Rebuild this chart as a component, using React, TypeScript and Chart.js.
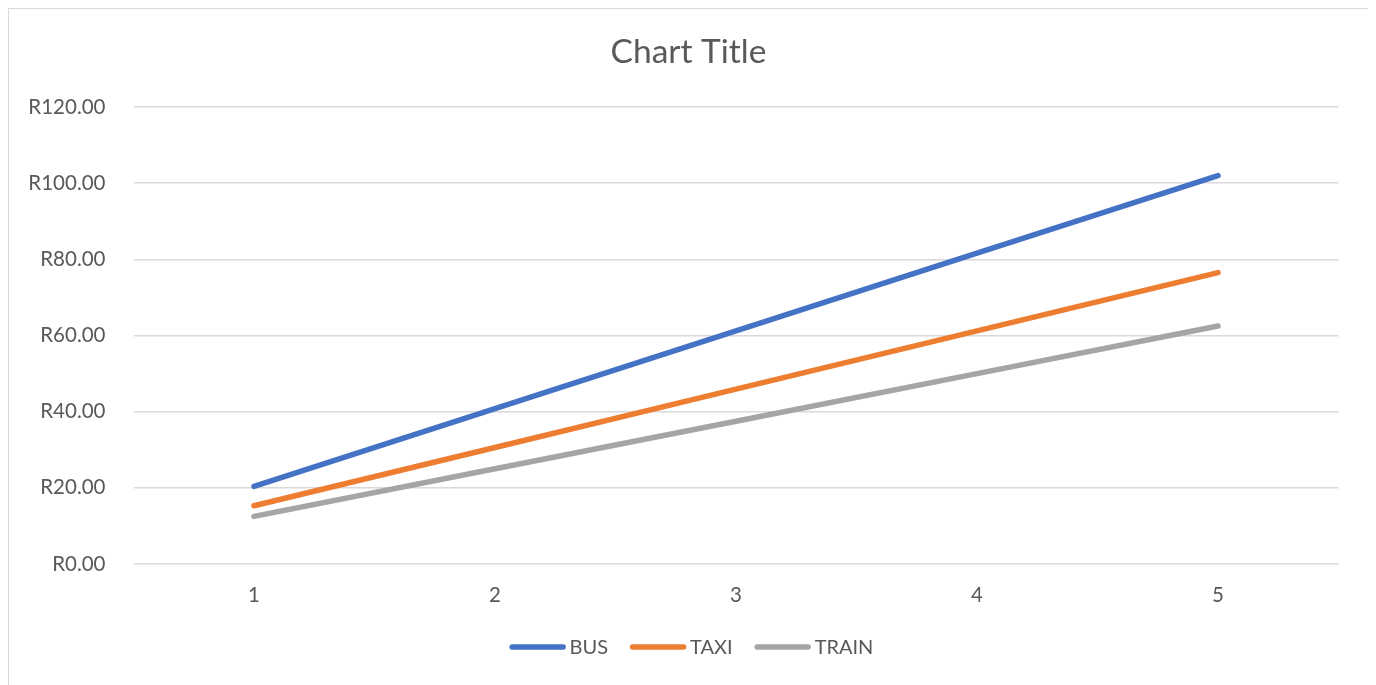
import React, { useEffect, useRef } from "react";
import { Chart, registerables } from "chart.js";

Chart.register(...registerables);

const categories = ["1", "2", "3", "4", "5"];
const busValues = [20.4, 40.8, 61.2, 81.6, 102.0];
const taxiValues = [15.3, 30.6, 45.9, 61.2, 76.5];
const trainValues = [12.5, 25.0, 37.5, 50.0, 62.5];
const seriesNames = ["BUS", "TAXI", "TRAIN"];
const seriesColors = ["#4472C4", "#ED7D31", "#A5A5A5"];
const chartTitle = "Chart Title";

const FONT = "Lato, 'Open Sans', sans-serif";
const TEXT = "#595959";
const TICK_SIZE = 20.5;

const excelDecor = {
  id: "excelDecor",
  afterDraw(chart: any) {
    const ctx = chart.ctx as CanvasRenderingContext2D;
    ctx.save();
    // Title, centred on the whole chart frame
    ctx.font = `33.5px ${FONT}`;
    ctx.fillStyle = TEXT;
    ctx.textAlign = "center";
    ctx.textBaseline = "middle";
    ctx.fillText(chartTitle, chart.width / 2, 43);

    // Legend
    const lineW = 56;
    const gapText = 4;
    const gapItem = 22;
    ctx.font = `20px ${FONT}`;
    const items = chart.data.datasets.map((ds: any) => ({
      label: ds.label as string,
      color: ds.borderColor as string,
      w: ctx.measureText(ds.label).width,
    }));
    let total = 0;
    items.forEach((it: any, i: number) => {
      total += lineW + gapText + it.w + (i < items.length - 1 ? gapItem : 0);
    });
    let x = chart.width / 2 + 3 - total / 2;
    const y = 638;
    ctx.textAlign = "left";
    items.forEach((it: any) => {
      ctx.beginPath();
      ctx.strokeStyle = it.color;
      ctx.lineWidth = 5.5;
      ctx.lineCap = "round";
      ctx.moveTo(x + 2.5, y);
      ctx.lineTo(x + lineW - 2.5, y);
      ctx.stroke();
      x += lineW + gapText;
      ctx.fillStyle = TEXT;
      ctx.fillText(it.label, x, y + 1);
      x += it.w + gapItem;
    });
    ctx.restore();
  },
};

export default function App() {
  const ref = useRef<HTMLCanvasElement | null>(null);

  useEffect(() => {
    if (!ref.current) return;
    const values = [busValues, taxiValues, trainValues];
    const chart = new Chart(ref.current, {
      type: "line",
      data: {
        labels: categories,
        datasets: seriesNames.map((name, i) => ({
          label: name,
          data: values[i],
          borderColor: seriesColors[i],
          backgroundColor: seriesColors[i],
          borderWidth: 5.5,
          borderCapStyle: "round" as const,
          borderJoinStyle: "round" as const,
          pointRadius: 0,
          pointHoverRadius: 0,
          tension: 0,
        })),
      },
      plugins: [excelDecor],
      options: {
        responsive: false,
        animation: false,
        maintainAspectRatio: false,
        layout: { padding: { left: 0, right: 29.5, top: 98, bottom: 70.5 } },
        plugins: {
          title: { display: false },
          legend: { display: false },
          tooltip: { enabled: false },
        },
        scales: {
          x: {
            offset: true,
            grid: { display: false, drawTicks: false },
            border: { display: false },
            ticks: {
              color: TEXT,
              font: { family: FONT, size: TICK_SIZE },
              padding: 19,
            },
            afterFit: (scale: any) => {
              scale.height = 64.5;
            },
          },
          y: {
            min: 0,
            max: 120,
            ticks: {
              stepSize: 20,
              color: TEXT,
              font: { family: FONT, size: TICK_SIZE },
              padding: 28,
              callback: (v: any) => "R" + Number(v).toFixed(2),
            },
            grid: { color: "#D9D9D9", lineWidth: 1.5, drawTicks: false },
            border: { display: false },
            afterFit: (scale: any) => {
              scale.width = 124.5;
            },
          },
        },
      },
    });
    return () => chart.destroy();
  }, []);

  return (
    <div
      style={{
        width: 1359,
        height: 690,
        border: "1px solid #D9D9D9",
        background: "#FFFFFF",
      }}
    >
      <canvas ref={ref} width={1359} height={690} style={{ display: "block" }} />
    </div>
  );
}
